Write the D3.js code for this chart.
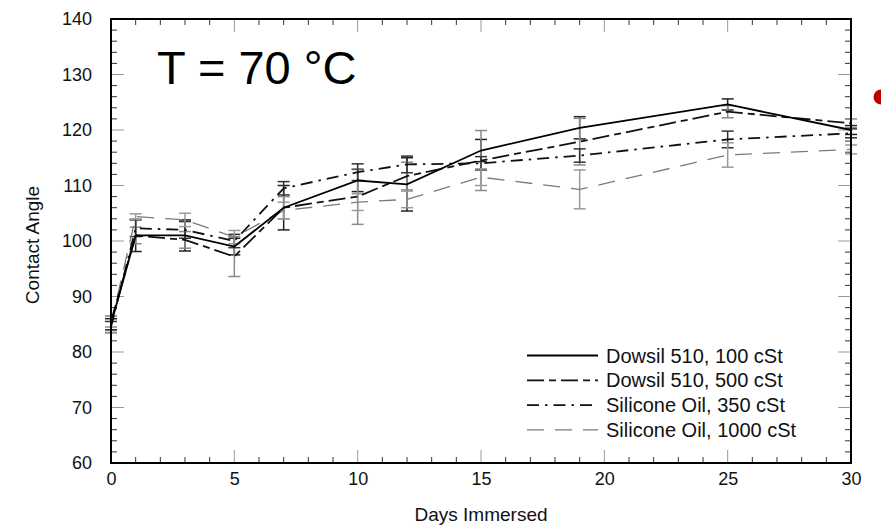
<!DOCTYPE html>
<html>
<head>
<meta charset="utf-8">
<script src="https://cdn.jsdelivr.net/npm/d3@7"></script>
<style>
  body { margin: 0; background: #fff; }
  svg { display: block; font-family: "Liberation Sans", Arial, sans-serif; }
</style>
</head>
<body>
<div id="chart"></div>
<script>
// DATA
const days = [0, 1, 3, 5, 7, 10, 12, 15, 19, 25, 30]

const seriesNames = ["Dowsil 510, 100 cSt", "Dowsil 510, 500 cSt", "Silicone Oil, 350 cSt", "Silicone Oil, 1000 cSt"]

const dowsil100 = [85, 101, 101, 99, 106, 110.9, 110.2, 116.3, 120.4, 124.6, 120]
const dowsil500 = [85.5, 101, 100.2, 97.2, 106, 108, 111.7, 114.5, 117.9, 123.3, 121.2]
const silicone350 = [84.5, 102.3, 102, 100, 109.5, 112.4, 113.8, 114, 115.4, 118.3, 119.4]
const silicone1000 = [85, 104.4, 103.8, 100.7, 105.5, 107, 107.5, 111.5, 109.3, 115.5, 116.5]

const err100 = [1, 2.9, 2.8, 1.5, 4, 2, 4.8, 2, 2, 1, 0.8]
const err500 = [1, 1.5, 1.5, 3.6, 2, 5, 2.5, 5.4, 4.2, 1.1, 0.8]
const err350 = [1, 1.5, 1.5, 1.2, 1.2, 1.5, 1.5, 1.2, 1.2, 1.5, 0.8]
const err1000 = [1.5, 0.5, 1.2, 1.2, 1.5, 1.5, 1.5, 1.5, 3.5, 2.2, 0.8]

const yTicks = [60, 70, 80, 90, 100, 110, 120, 130, 140]
const xTicks = [0, 5, 10, 15, 20, 25, 30]

// SIZES
const W = 881, H = 525
const margin = {left: 111, top: 19, right: 30, bottom: 62}
const width = W - margin.left - margin.right
const height = H - margin.top - margin.bottom

// SCALES
const xScale = d3.scaleLinear().domain([0, 30]).range([0, width])
const yScale = d3.scaleLinear().domain([60, 140]).range([height, 0])

const styles = [
  {vals: dowsil100, err: err100, color: "#000", width: 1.8, dash: null, errColor: "#222"},
  {vals: dowsil500, err: err500, color: "#111", width: 1.8, dash: "17,5,7,5", errColor: "#8a8a8a"},
  {vals: silicone350, err: err350, color: "#111", width: 1.8, dash: "12,6,2.5,6", errColor: "#333"},
  {vals: silicone1000, err: err1000, color: "#7a7a7a", width: 1.3, dash: "17,11", errColor: "#999"}
]

const svg = d3.select("#chart")
  .append("svg")
  .attr("width", W)
  .attr("height", H)

const g = svg.append("g")
  .attr("transform", `translate(${margin.left}, ${margin.top})`)

// MINOR / MAJOR TICKS (inward on all sides)
const yMinor = d3.range(60, 141, 2)
const xMinor = d3.range(0, 31, 1)

g.append("g").selectAll("line")
  .data(yMinor)
  .join("line")
  .attr("x1", 0)
  .attr("x2", d => d % 10 === 0 ? 13 : 6)
  .attr("y1", d => yScale(d))
  .attr("y2", d => yScale(d))
  .attr("stroke", d => d % 10 === 0 ? "#999" : "#333")
  .attr("stroke-width", 1)

g.append("g").selectAll("line")
  .data(yMinor)
  .join("line")
  .attr("x1", width)
  .attr("x2", d => width - (d % 10 === 0 ? 13 : 6))
  .attr("y1", d => yScale(d))
  .attr("y2", d => yScale(d))
  .attr("stroke", d => d % 10 === 0 ? "#999" : "#333")
  .attr("stroke-width", 1)

g.append("g").selectAll("line")
  .data(xMinor)
  .join("line")
  .attr("x1", d => xScale(d))
  .attr("x2", d => xScale(d))
  .attr("y1", height)
  .attr("y2", d => height - (d % 5 === 0 ? 13 : 6))
  .attr("stroke", d => d % 5 === 0 ? "#999" : "#333")
  .attr("stroke-width", 1)

g.append("g").selectAll("line")
  .data(xMinor)
  .join("line")
  .attr("x1", d => xScale(d))
  .attr("x2", d => xScale(d))
  .attr("y1", 0)
  .attr("y2", d => d % 5 === 0 ? 13 : 6)
  .attr("stroke", d => d % 5 === 0 ? "#999" : "#333")
  .attr("stroke-width", 1)

// AXES (labels only, ticks drawn above)
const xAxis = d3.axisBottom(xScale).tickValues(xTicks).tickSize(0).tickPadding(9)
const yAxis = d3.axisLeft(yScale).tickValues(yTicks).tickSize(0).tickPadding(19)

g.append("g")
  .attr("transform", `translate(0, ${height})`)
  .call(xAxis)
  .call(a => a.select(".domain").remove())
  .selectAll("text")
  .attr("font-size", 18)
  .attr("font-family", "Liberation Sans, Arial, sans-serif")
  .attr("fill", "#111")

g.append("g")
  .call(yAxis)
  .call(a => a.select(".domain").remove())
  .selectAll("text")
  .attr("font-size", 18)
  .attr("font-family", "Liberation Sans, Arial, sans-serif")
  .attr("fill", "#111")

// ERROR BARS
styles.forEach(s => {
  const eb = g.append("g")
  const pts = days.map((d, i) => ({x: d, y: s.vals[i], e: s.err[i]}))
  eb.selectAll(".v")
    .data(pts)
    .join("line")
    .attr("x1", d => xScale(d.x))
    .attr("x2", d => xScale(d.x))
    .attr("y1", d => yScale(d.y - d.e))
    .attr("y2", d => yScale(d.y + d.e))
    .attr("stroke", s.errColor)
    .attr("stroke-width", 1.5)
  ;[-1, 1].forEach(sign => {
    eb.selectAll(".c" + sign)
      .data(pts)
      .join("line")
      .attr("x1", d => xScale(d.x) - 6)
      .attr("x2", d => xScale(d.x) + 6)
      .attr("y1", d => yScale(d.y + sign * d.e))
      .attr("y2", d => yScale(d.y + sign * d.e))
      .attr("stroke", s.errColor)
      .attr("stroke-width", 1.5)
  })
})

// LINES
const line = d3.line()
  .x((d, i) => xScale(days[i]))
  .y(d => yScale(d))

styles.slice().reverse().forEach(s => {
  g.append("path")
    .datum(s.vals)
    .attr("d", line)
    .attr("fill", "none")
    .attr("stroke", s.color)
    .attr("stroke-width", s.width)
    .attr("stroke-dasharray", s.dash)
})

// FRAME
g.append("rect")
  .attr("x", 0).attr("y", 0)
  .attr("width", width).attr("height", height)
  .attr("fill", "none")
  .attr("stroke", "#000")
  .attr("stroke-width", 2)

// LEGEND
const legend = g.append("g")
  .attr("transform", `translate(${527 - margin.left}, ${355.5 - margin.top})`)

seriesNames.forEach((name, i) => {
  const s = styles[i]
  legend.append("line")
    .attr("x1", 0).attr("x2", 71)
    .attr("y1", i * 24.8).attr("y2", i * 24.8)
    .attr("stroke", s.color)
    .attr("stroke-width", s.width)
    .attr("stroke-dasharray", s.dash)
  legend.append("text")
    .attr("x", 79)
    .attr("y", i * 24.8)
    .attr("dy", "0.35em")
    .attr("font-size", 20)
    .attr("fill", "#111")
    .text(name)
})

// TITLE INSIDE PLOT
svg.append("text")
  .attr("x", 157)
  .attr("y", 84)
  .attr("font-size", 47)
  .attr("fill", "#000")
  .text("T = 70 °C")

// AXIS TITLES
svg.append("text")
  .attr("transform", `translate(39, 245) rotate(-90)`)
  .attr("text-anchor", "middle")
  .attr("font-size", 19)
  .attr("fill", "#111")
  .text("Contact Angle")

svg.append("text")
  .attr("x", 481)
  .attr("y", 521)
  .attr("text-anchor", "middle")
  .attr("font-size", 19)
  .attr("fill", "#111")
  .text("Days Immersed")

// RED BULLET AT RIGHT EDGE
svg.append("circle")
  .attr("cx", 881)
  .attr("cy", 97)
  .attr("r", 7.5)
  .attr("fill", "#c00000")
</script>
</body>
</html>
